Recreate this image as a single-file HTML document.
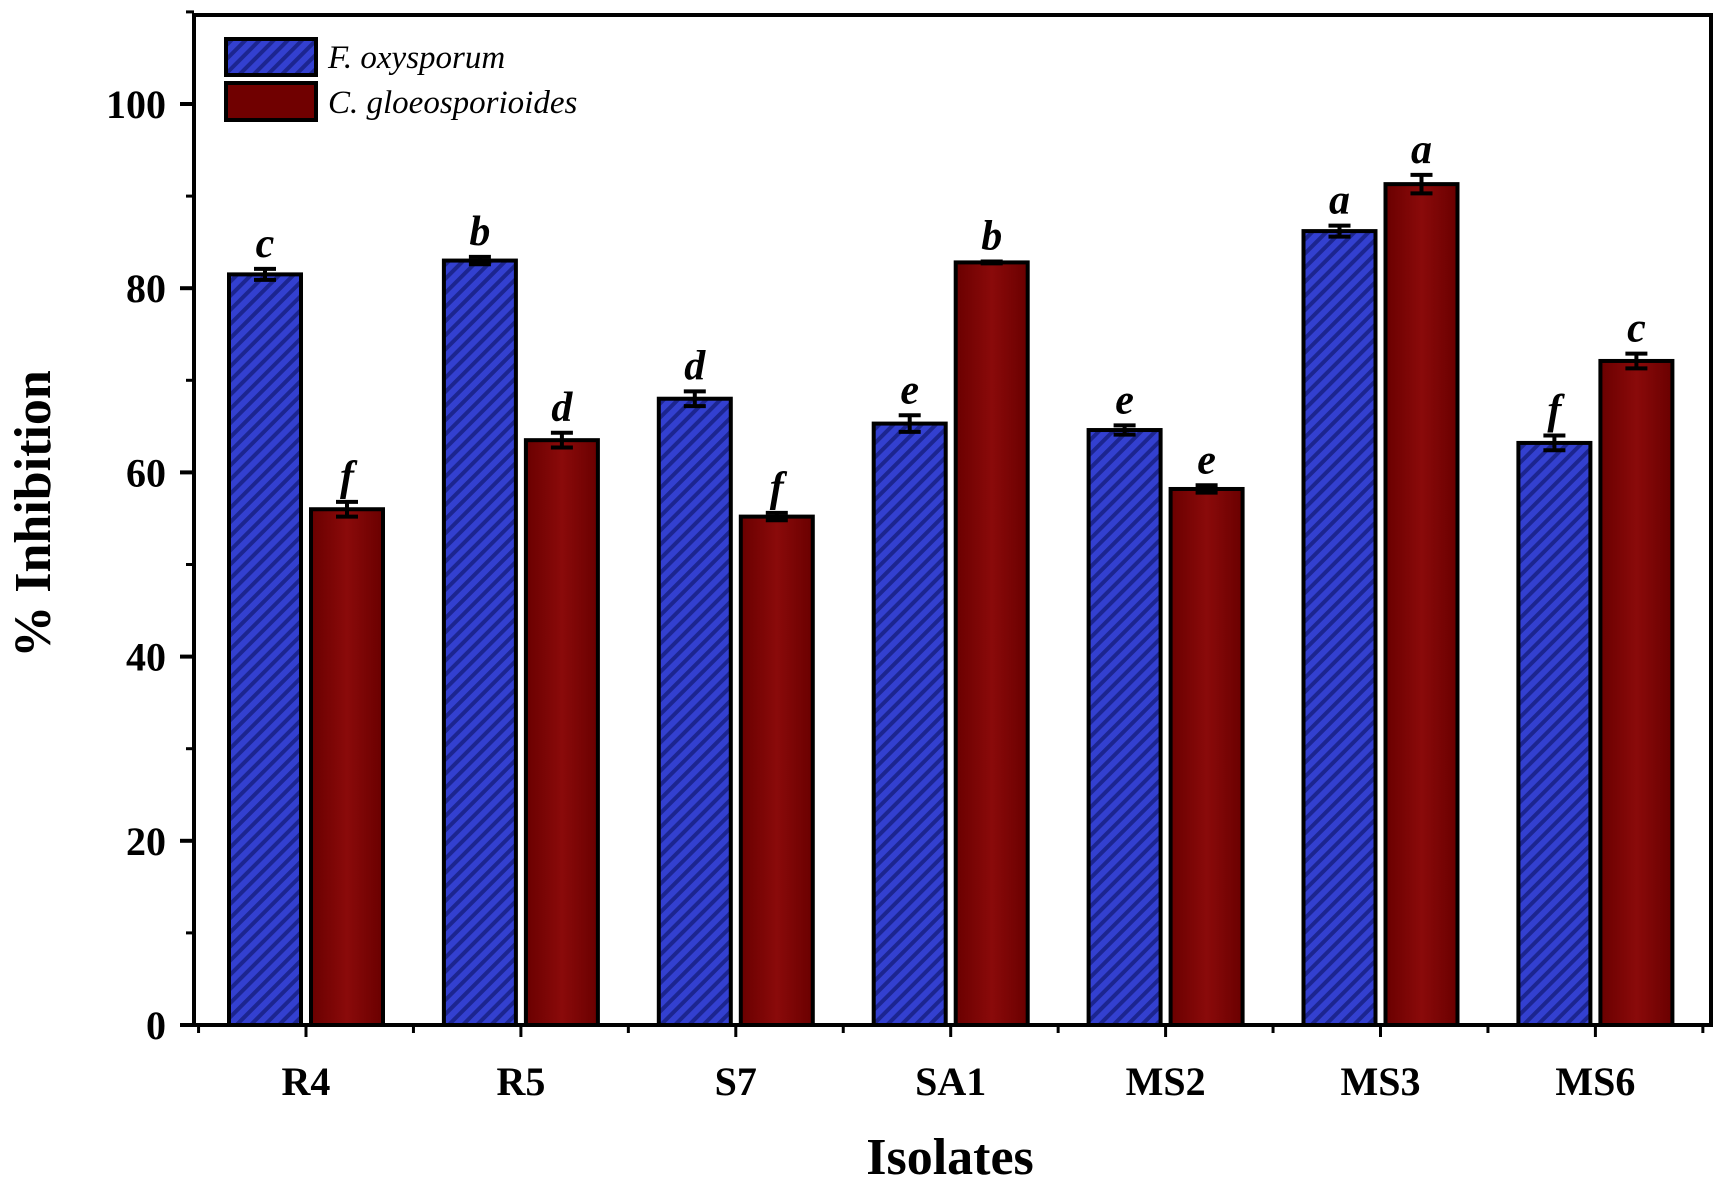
<!DOCTYPE html>
<html><head><meta charset="utf-8"><style>
html,body{margin:0;padding:0;background:#fff;}
svg{display:block;font-family:"Liberation Serif",serif;}
</style></head><body>
<svg id="chart" width="1713" height="1182" viewBox="0 0 1713 1182" xmlns="http://www.w3.org/2000/svg">
<defs>
<pattern id="hatch" patternUnits="userSpaceOnUse" width="10" height="10" patternTransform="rotate(45)">
<rect width="10" height="10" fill="#3340d0"/>
<rect width="4" height="10" fill="#1c2590"/>
</pattern>
<linearGradient id="redg" x1="0" x2="1" y1="0" y2="0">
<stop offset="0" stop-color="#6a0000"/><stop offset="0.5" stop-color="#8a0a0a"/><stop offset="1" stop-color="#6a0000"/>
</linearGradient>
</defs>
<g id="plot"></g>
</svg>
<script>
const categories=["R4","R5","S7","SA1","MS2","MS3","MS6"];
const foxValues=[81.5,83.0,68.0,65.3,64.6,86.2,63.2];
const foxErrors=[0.6,0.4,0.8,0.9,0.5,0.6,0.8];
const foxLetters=["c","b","d","e","e","a","f"];
const cgValues=[56.0,63.5,55.2,82.8,58.2,91.3,72.1];
const cgErrors=[0.8,0.8,0.4,0.1,0.4,1.0,0.8];
const cgLetters=["f","d","f","b","e","a","c"];
const yTicks=[0,20,40,60,80,100];

const NS="http://www.w3.org/2000/svg";
const g=document.getElementById('plot');
const L=194,R=1711,T=15,B=1025;
const y=v=>B-v*(B-104)/100;
const x0=306,step=214.9,bw=72,gap=10;
const cx=i=>x0+i*step;
function mk(t,a,txt){const e=document.createElementNS(NS,t);for(const k in a)e.setAttribute(k,a[k]);if(txt!==undefined)e.textContent=txt;g.appendChild(e);return e;}

function drawBar(i,v,err,letter,left,fill,nm){
  const bx=left?cx(i)-gap/2-bw:cx(i)+gap/2;
  const r=mk('rect',{x:bx,y:y(v),width:bw,height:B-y(v),fill:fill,stroke:'#000','stroke-width':4});
  
  
  const m=bx+bw/2;
  const eb=mk('path',{d:`M${m} ${y(v+err)}V${y(v-err)}M${m-11} ${y(v+err)}H${m+11}M${m-11} ${y(v-err)}H${m+11}`,stroke:'#000','stroke-width':4,fill:'none'});
  
  
  const t=mk('text',{x:m,y:y(v+err)-12,'text-anchor':'middle','font-size':42,'font-weight':'bold','font-style':'italic'},letter);
  
  
}
categories.forEach((c,i)=>{
  drawBar(i,foxValues[i],foxErrors[i],foxLetters[i],true,'url(#hatch)','f-oxysporum');
  drawBar(i,cgValues[i],cgErrors[i],cgLetters[i],false,'url(#redg)','c-gloeosporioides');
  const t=mk('text',{x:cx(i),y:1095,'text-anchor':'middle','font-size':40,'font-weight':'bold'},c);
  
  
  const tk=mk('line',{x1:cx(i),x2:cx(i),y1:B,y2:B+12,stroke:'#000','stroke-width':3});
  
  
});
for(let i=0;i<=categories.length;i++){
  const xm=cx(i)-step/2;
  const tk=mk('line',{x1:xm,x2:xm,y1:B,y2:B+8,stroke:'#000','stroke-width':3});
  
  
}
yTicks.forEach(v=>{
  const tk=mk('line',{x1:L-14,x2:L,y1:y(v),y2:y(v),stroke:'#000','stroke-width':4});
  
  
  const t=mk('text',{x:L-28,y:y(v)+14,'text-anchor':'end','font-size':40,'font-weight':'bold'},v);
  
  
  if(v<100){
    const mt=mk('line',{x1:L-8,x2:L,y1:y(v+10),y2:y(v+10),stroke:'#000','stroke-width':3});
    
    
  }
});
const mt=mk('line',{x1:L-8,x2:L,y1:y(110),y2:y(110),stroke:'#000','stroke-width':3});


const fr=mk('path',{d:`M${L} ${T}H${R}V${B}H${L}Z`,fill:'none',stroke:'#000','stroke-width':4});


const xt=mk('text',{x:950,y:1174,'text-anchor':'middle','font-size':52,'font-weight':'bold'},'Isolates');


const yt=mk('text',{x:0,y:0,'text-anchor':'middle','font-size':52,'font-weight':'bold',transform:'translate(50,514) rotate(-90)'},'% Inhibition');


const lg1=mk('rect',{x:226,y:39,width:90,height:36,fill:'url(#hatch)',stroke:'#000','stroke-width':4});


const lg2=mk('rect',{x:226,y:83,width:90,height:37,fill:'#700000',stroke:'#000','stroke-width':4});


const lt1=mk('text',{x:328,y:68,'font-size':33,'font-style':'italic'},'F. oxysporum');


const lt2=mk('text',{x:328,y:113,'font-size':33,'font-style':'italic'},'C. gloeosporioides');


</script>
</body></html>
